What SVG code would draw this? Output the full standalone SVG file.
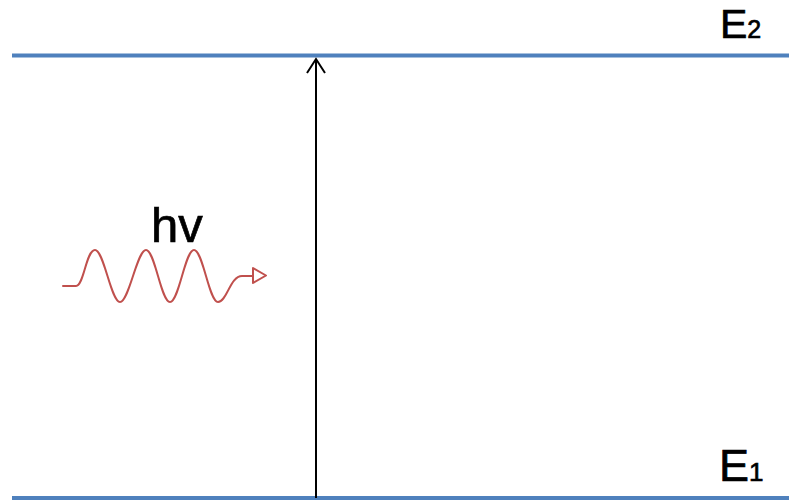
<svg xmlns="http://www.w3.org/2000/svg" width="789" height="503" viewBox="0 0 789 503">
<style>
.level{stroke:#4f81bd;stroke-width:4;fill:none}
.lbl{font-family:"Liberation Sans",Arial,sans-serif;fill:#000;stroke:#000;stroke-width:0.7}
.wave{stroke:#c0504d;stroke-width:2;fill:none;stroke-linejoin:round;stroke-linecap:round}
.arrow{stroke:#000;stroke-width:2;fill:none}
</style>
<rect width="789" height="503" fill="#fff"/>
<g id="level-E2">
<line class="level" x1="12" y1="55.5" x2="789" y2="55.5"/>
<text class="lbl" x="720" y="38" font-size="41">E<tspan font-size="25">2</tspan></text>
</g>
<g id="level-E1">
<line class="level" x1="12" y1="498" x2="789" y2="498"/>
<text class="lbl" x="719" y="481" font-size="45">E<tspan font-size="26">1</tspan></text>
</g>
<g id="photon">
<text class="lbl" x="151" y="242" font-size="49">hv</text>
<path class="wave" d="M63,286 L76,286 C84,286 86,250 95,250 C104,250 111,302 120,302 C129,302 137,250 146,250 C155,250 161,302 170,302 C179,302 185,250 194,250 C203,250 209,302 218,302 C227,302 230,276 242,276 L253,276"/>
<polygon class="wave" points="253,268 266,275.5 253,283"/>
</g>
<g id="connectors">
<line class="arrow" x1="316" y1="498" x2="316" y2="59"/>
<polyline class="arrow" points="307,73 316,59 325,73" stroke-linejoin="miter"/>
</g>
</svg>
